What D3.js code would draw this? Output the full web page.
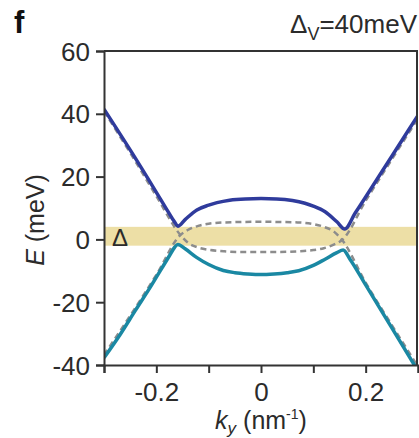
<!DOCTYPE html>
<html lang="en">
<head>
    <meta charset="UTF-8">
    <title>Band structure - panel f</title>
    <script src="https://d3js.org/d3.v7.min.js"></script>
    <style>
        body { margin: 0; background: #fff; }
        text { font-family: "Liberation Sans", Arial, sans-serif; fill: #2b2b2b; }
        .axis path, .axis line { stroke: #333; stroke-width: 2px; }
        .axis text { font-size: 26px; fill: #2b2b2b; }
    </style>
</head>
<body>
    <svg id="chart"></svg>
    <script>
        // values (k in nm^-1, E in meV)
        const upperK = [-0.3, -0.25, -0.2, -0.18, -0.165, -0.159, -0.145, -0.1225, -0.1, -0.084, -0.06, -0.03, 0,
                        0.03, 0.06, 0.084, 0.1, 0.1225, 0.145, 0.16, 0.18, 0.2, 0.25, 0.3];
        const upperE = [41.5, 28.5, 15, 9.5, 5.5, 4.2, 6.3, 9.4, 10.9, 11.7, 12.5, 12.9, 13.0,
                        12.9, 12.4, 11.5, 10.6, 8.8, 5.6, 3.3, 8.4, 13.5, 26.5, 39.5];

        const lowerK = [-0.3, -0.27, -0.24, -0.21, -0.19, -0.175, -0.165, -0.159, -0.145, -0.1225, -0.1, -0.072, -0.05, -0.025, 0,
                        0.025, 0.05, 0.072, 0.1, 0.1225, 0.145, 0.157, 0.17, 0.2, 0.25, 0.3];
        const lowerE = [-37.7, -30.5, -22.6, -14.8, -9.3, -5.2, -2.5, -1.6, -3.0, -5.8, -8.0, -9.9, -10.6, -11.0, -11.2,
                        -11.0, -10.6, -10.0, -8.3, -6.3, -4.2, -3.4, -6.3, -14.5, -28.2, -41.9];

        const dashAK = [-0.3, -0.25, -0.2, -0.154, -0.14, -0.12, -0.1, -0.07, -0.035, 0, 0.035, 0.07, 0.1, 0.12, 0.14, 0.155, 0.2, 0.25, 0.3];
        const dashAE = [40.8, 27.6, 13.8, 1.4, -1.0, -2.6, -3.3, -3.8, -4.0, -4.0, -4.0, -3.8, -3.4, -2.8, -1.6, -0.2, 12.3, 25.5, 38.5];

        const dashBK = [-0.3, -0.25, -0.2, -0.154, -0.14, -0.12, -0.1, -0.07, 0, 0.07, 0.1, 0.12, 0.14, 0.155, 0.2, 0.25, 0.3];
        const dashBE = [-36.8, -24.3, -11.3, 1.4, 3.0, 4.3, 5.0, 5.4, 5.6, 5.4, 4.9, 4.0, 2.4, -0.2, -13.8, -27.3, -40.5];

        const gapTop = 4.0, gapBottom = -2.0;

        const xTicks = [-0.3, -0.2, -0.1, 0, 0.1, 0.2, 0.3];
        const xLabels = [-0.2, 0, 0.2];
        const yTicks = [-40, -20, 0, 20, 40, 60];

        const W = 419, H = 438;
        const margin = { top: 51, right: 1, bottom: 73, left: 104 };

        const svg = d3.select("#chart")
            .attr("width", W)
            .attr("height", H);

        const x = d3.scaleLinear().domain([-0.3, 0.3]).range([margin.left, W - margin.right]);
        const y = d3.scaleLinear().domain([-40, 60]).range([H - margin.bottom, margin.top]);

        svg.append("clipPath").attr("id", "clip")
            .append("rect")
            .attr("x", x(-0.3)).attr("y", y(60))
            .attr("width", x(0.3) - x(-0.3)).attr("height", y(-40) - y(60));

        const plot = svg.append("g").attr("clip-path", "url(#clip)");

        // gap band
        plot.append("rect")
            .attr("x", x(-0.3))
            .attr("y", y(gapTop))
            .attr("width", x(0.3) - x(-0.3))
            .attr("height", y(gapBottom) - y(gapTop))
            .attr("fill", "#eddfa6");

        const line = d3.line()
            .x(d => x(d[0]))
            .y(d => y(d[1]))
            .curve(d3.curveMonotoneX);

        // unperturbed bands (dashed)
        [[dashAK, dashAE], [dashBK, dashBE]].forEach(([ks, es]) => {
            plot.append("path")
                .datum(ks.map((k, i) => [k, es[i]]))
                .attr("d", line)
                .attr("fill", "none")
                .attr("stroke", "#8c8c8c")
                .attr("stroke-width", 2.5)
                .attr("stroke-dasharray", "6,4");
        });

        plot.append("path")
            .datum(upperK.map((k, i) => [k, upperE[i]]))
            .attr("d", line)
            .attr("fill", "none")
            .attr("stroke", "#2f3b9c")
            .attr("stroke-width", 3.5);

        plot.append("path")
            .datum(lowerK.map((k, i) => [k, lowerE[i]]))
            .attr("d", line)
            .attr("fill", "none")
            .attr("stroke", "#1a88a3")
            .attr("stroke-width", 3.5);

        // Δ label
        svg.append("text")
            .attr("x", x(-0.3) + 8)
            .attr("y", y(-2.2))
            .style("font-size", "24px")
            .text("Δ");

        // axes
        svg.append("g")
            .attr("class", "axis")
            .attr("transform", `translate(0, ${y(-40)})`)
            .call(d3.axisBottom(x).tickValues(xTicks).tickSizeOuter(0).tickSize(8).tickPadding(3)
                .tickFormat(d => xLabels.some(v => Math.abs(v - d) < 1e-9) ? (d === 0 ? "0" : d3.format(".1f")(d).replace("−", "-")) : ""));

        svg.append("g")
            .attr("class", "axis")
            .attr("transform", `translate(${x(-0.3)}, 0)`)
            .call(d3.axisLeft(y).tickValues(yTicks).tickSizeOuter(0).tickSize(8).tickPadding(6)
                .tickFormat(d => String(d)));

        svg.selectAll(".axis text").attr("dy", null);
        svg.selectAll(".axis .tick text").each(function() {
            const t = d3.select(this);
            if (t.attr("x") === null || +t.attr("x") === 0) t.attr("dy", "0.95em");
        });
        svg.selectAll(".axis").filter((d, i) => i === 1).selectAll("text").attr("dy", "0.35em");

        // box top and right
        svg.append("line")
            .attr("x1", x(-0.3)).attr("x2", x(0.3))
            .attr("y1", y(60)).attr("y2", y(60))
            .attr("stroke", "#333").attr("stroke-width", 2);
        svg.append("line")
            .attr("x1", x(0.3) - 1).attr("x2", x(0.3) - 1)
            .attr("y1", y(60)).attr("y2", y(-40))
            .attr("stroke", "#333").attr("stroke-width", 2);

        // x axis label
        const xl = svg.append("text")
            .attr("x", x(0))
            .attr("y", 429)
            .attr("text-anchor", "middle")
            .style("font-size", "25px");
        xl.append("tspan").style("font-style", "italic").text("k");
        xl.append("tspan").style("font-style", "italic").style("font-size", "17px").attr("dy", 5).text("y");
        xl.append("tspan").attr("dy", -5).text(" (nm");
        xl.append("tspan").style("font-size", "14px").attr("dy", -10).text("-1");
        xl.append("tspan").attr("dy", 10).text(")");

        // y axis label
        const yl = svg.append("text")
            .attr("transform", `translate(44, 220) rotate(-90)`)
            .attr("text-anchor", "middle")
            .style("font-size", "25px");
        yl.append("tspan").style("font-style", "italic").text("E");
        yl.append("tspan").text(" (meV)");

        // panel letter
        svg.append("text")
            .attr("x", 14)
            .attr("y", 33)
            .style("font-size", "31px")
            .style("font-weight", "bold")
            .style("fill", "#111")
            .text("f");

        // gap annotation
        const tt = svg.append("text")
            .attr("x", 417)
            .attr("y", 33)
            .attr("text-anchor", "end")
            .style("font-size", "26px");
        tt.append("tspan").text("Δ");
        tt.append("tspan").style("font-size", "18px").attr("dy", 7).text("V");
        tt.append("tspan").attr("dy", -7).text("=40meV");
    </script>
</body>
</html>
